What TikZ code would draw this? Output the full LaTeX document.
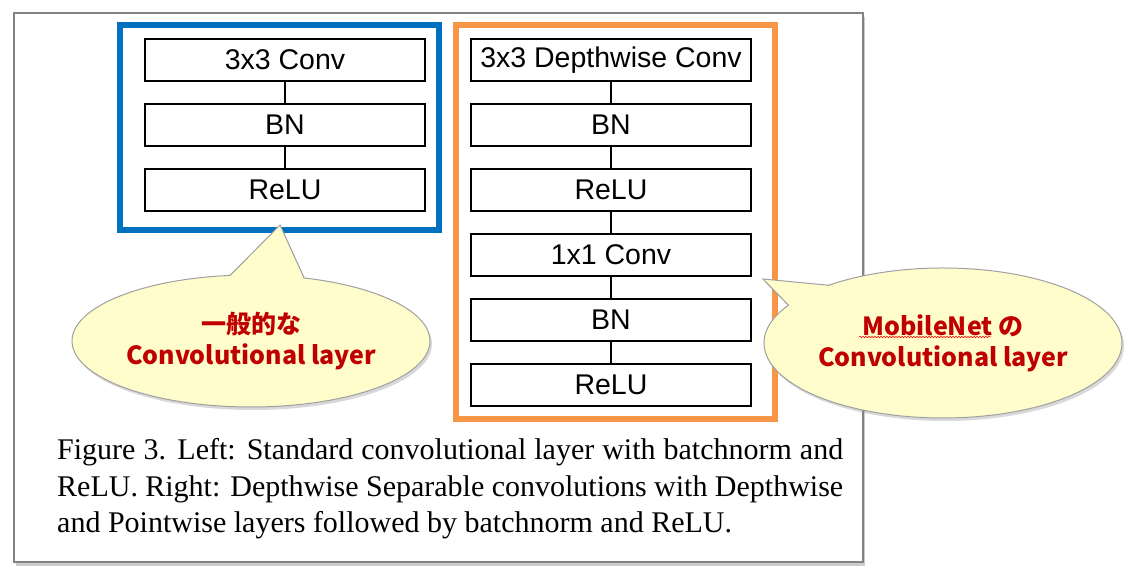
\documentclass[tikz,border=0pt]{standalone}
\usepackage{fontspec}
\setmainfont{Liberation Serif}
\setsansfont{Liberation Sans}
\newfontfamily\cjk{Noto Sans CJK JP}
\usetikzlibrary{calc}
\usetikzlibrary{positioning}
\usetikzlibrary{backgrounds}
\usetikzlibrary{shapes.callouts}
\usetikzlibrary{shadows}
\usetikzlibrary{decorations.pathmorphing}
\definecolor{frameblue}{RGB}{0,112,192}
\definecolor{frameorange}{RGB}{247,150,70}
\definecolor{calloutfill}{RGB}{255,253,204}
\definecolor{calloutline}{RGB}{160,160,160}
\definecolor{labelred}{RGB}{192,0,0}
\definecolor{pagegray}{RGB}{130,130,130}
\newcommand{\widthlayer}{280pt}
\newcommand{\heightlayer}{42pt}
\newcommand{\gaplayer}{21pt}
\newcommand{\capline}[1]{\makebox[786pt][s]{#1}}
\tikzset{
    layer/.style={draw, fill=white, rectangle, line width=2pt, minimum width=\widthlayer, minimum height=\heightlayer,
        inner sep=0pt, font=\fontsize{28.5}{30}\sffamily},
    group/.style={line width=6pt, fill=white, drop shadow={shadow xshift=1pt, shadow yshift=-2pt, opacity=.25}},
    bubble/.style={ellipse callout, draw=calloutline, fill=calloutfill, line width=1pt, inner sep=0pt,
        font=\cjk\bfseries\fontsize{25}{31}\selectfont, text=labelred, align=center,
        drop shadow={shadow xshift=2pt, shadow yshift=-3pt, opacity=.3}},
    caption/.style={anchor=base west, inner sep=0pt, font=\fontsize{30}{36}\selectfont},
    link/.style={line width=2pt}
}
\begin{document}
\begin{tikzpicture}[x=1pt, y=1pt]
    \useasboundingbox (0,0) rectangle (1128,577);

    % standard layer
    \node[layer] (SConv) at (285,517) {3x3 Conv};
    \node[layer, below=\gaplayer of SConv] (SBN) {BN};
    \node[layer, below=\gaplayer of SBN] (SReLU) {ReLU};
    \draw[link] (SConv) -- (SBN) (SBN) -- (SReLU);

    % depthwise separable layer
    \node[layer] (DConv) at (611,517) {3x3 Depthwise Conv};
    \node[layer, below=\gaplayer of DConv] (DBN) {BN};
    \node[layer, below=\gaplayer of DBN] (DReLU) {ReLU};
    \node[layer, below=\gaplayer of DReLU] (PConv) {1x1 Conv};
    \node[layer, below=\gaplayer of PConv] (PBN) {BN};
    \node[layer, below=\gaplayer of PBN] (PReLU) {ReLU};
    \draw[link] (DConv) -- (DBN) -- (DReLU) -- (PConv) -- (PBN) -- (PReLU);

    \begin{scope}[on background layer]
        % page of the paper
        \draw[draw=pagegray, line width=1.2pt, fill=white, drop shadow={shadow xshift=2pt, shadow yshift=-4pt, opacity=.4}]
            (14,15) rectangle (863,564);
        % coloured frames
        \draw[group, draw=frameblue] ($(SConv.north west)+(-24,13)$) rectangle ($(SReLU.south east)+(13,-18)$);
        \draw[group, draw=frameorange] ($(DConv.north west)+(-14,13)$) rectangle ($(PReLU.south east)+(23,-12)$);
    \end{scope}

    % callouts
    \node[bubble, minimum width=358pt, minimum height=132pt, callout pointer arc=24,
        callout absolute pointer={(280,352)}] (stdcall) at (251,236)
        {一般的な\\Convolutional layer};
    \node[bubble, minimum width=358pt, minimum height=150pt, callout pointer arc=20,
        callout absolute pointer={(763,298)}] (mobcall) at (943,234)
        {MobileNet の\\Convolutional layer};
    \draw[red, line width=.5pt, decorate, decoration={snake, amplitude=.8pt, segment length=3pt}]
        ($(mobcall.center)+(-84,6)$) -- ($(mobcall.center)+(48,6)$);

    % caption
    \node[caption] (capA) at (57,117) {\capline{Figure 3. Left: Standard convolutional layer with batchnorm and}};
    \node[caption] (capB) at (57,80) {\capline{ReLU. Right: Depthwise Separable convolutions with Depthwise}};
    \node[caption] (capC) at (57,44) {and Pointwise layers followed by batchnorm and ReLU.};
\end{tikzpicture}
\end{document}
